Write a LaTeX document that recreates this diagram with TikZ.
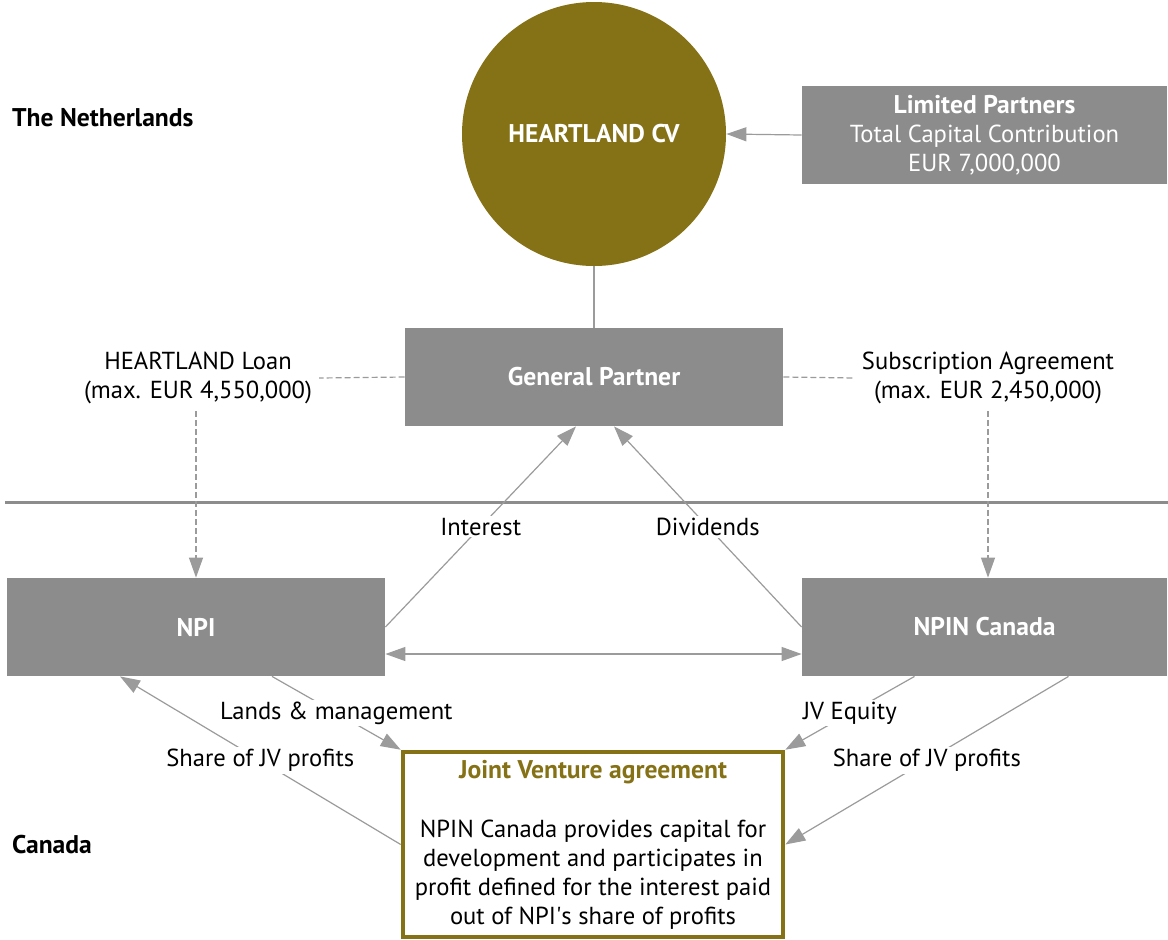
\documentclass[tikz,border=0pt]{standalone}
\usepackage{fontspec}
\setmainfont{PT Sans}
\usetikzlibrary{arrows.meta}
\definecolor{hlolive}{RGB}{134,114,22}
\definecolor{boxgrey}{RGB}{140,140,140}
\definecolor{linegrey}{RGB}{155,155,155}
\newcommand{\hlbold}{\fontsize{12.8}{14.5}\selectfont\bfseries}
\begin{document}
\begin{tikzpicture}[x=0.5pt,y=-0.5pt,
  every node/.style={font=\fontsize{12.3}{14.5}\selectfont,align=center},
  greybox/.style={fill=boxgrey,text=white,inner sep=0pt,minimum height=49pt},
  flow/.style={draw=linegrey,line width=0.6pt,-{Triangle[length=10pt,width=7pt]}},
  loanline/.style={draw=linegrey,line width=0.6pt,dash pattern=on 3pt off 1.5pt},
  onlabel/.style={midway,fill=white,inner sep=1pt}]
\useasboundingbox (0,0) rectangle (1168,939);
% countries
\node[anchor=west,font=\hlbold] (nl) at (5,118) {The Netherlands};
\node[anchor=west,font=\hlbold] (ca) at (5,845) {Canada};
\draw[boxgrey,line width=1.5pt] (5,502) -- (1168,502);
% entities
\node[circle,fill=hlolive,minimum size=132pt,text=white,font=\hlbold] (cv) at (594,134) {HEARTLAND CV};
\node[greybox,minimum width=182.5pt] (lp) at (984.5,135) {{\hlbold Limited Partners}\\Total Capital Contribution\\EUR 7,000,000};
\node[greybox,minimum width=189pt,font=\hlbold] (gp) at (594,377) {General Partner};
\node[greybox,minimum width=189pt,font=\hlbold] (npi) at (196,627) {NPI};
\node[greybox,minimum width=182.5pt,font=\hlbold] (npin) at (984.5,627) {NPIN Canada};
\node[draw=hlolive,line width=2.3pt,minimum width=190pt,minimum height=92.5pt,inner sep=0pt] (jv) at (593,844.5)
  {\textcolor{hlolive}{\hlbold Joint Venture agreement}\\[15pt]
   NPIN Canada provides capital for\\development and participates in\\profit defined for the interest paid\\out of NPI\textquotesingle s share of profits};
\node (loan) at (198,378) {HEARTLAND Loan\\(max. EUR 4,550,000)};
\node (subs) at (988,378) {Subscription Agreement\\(max. EUR 2,450,000)};
% links
\draw[flow] (lp.west) -- (cv.east);
\draw[draw=linegrey,line width=0.6pt] (cv.south) -- (gp.north);
\draw[loanline] (gp.west) -- (loan.east);
\draw[loanline,-{Triangle[length=10pt,width=7pt]}] (loan.south -| npi.north) -- (npi.north);
\draw[loanline] (gp.east) -- (subs.west);
\draw[loanline,-{Triangle[length=10pt,width=7pt]}] (subs.south) -- (subs.south |- npin.north);
\draw[flow] (npi.east) -- node[onlabel] {Interest} ([xshift=-9pt]gp.south);
\draw[flow] (npin.west) -- node[onlabel] {Dividends} ([xshift=10pt]gp.south);
\draw[flow,{Triangle[length=10pt,width=7pt]}-{Triangle[length=10pt,width=7pt]}] ([yshift=-13.5pt]npi.east) -- ([yshift=-13.5pt]npin.west);
\draw[flow] ([xshift=38pt]npi.south) -- node[onlabel] {Lands \& management} (jv.north west);
\draw[flow] (jv.west) -- node[onlabel] {Share of JV profits} ([xshift=-38pt]npi.south);
\draw[flow] ([xshift=-35pt]npin.south) -- node[onlabel] {JV Equity} (jv.north east);
\draw[flow] ([xshift=42pt]npin.south) -- node[onlabel] {Share of JV profits} (jv.east);
\end{tikzpicture}
\end{document}
